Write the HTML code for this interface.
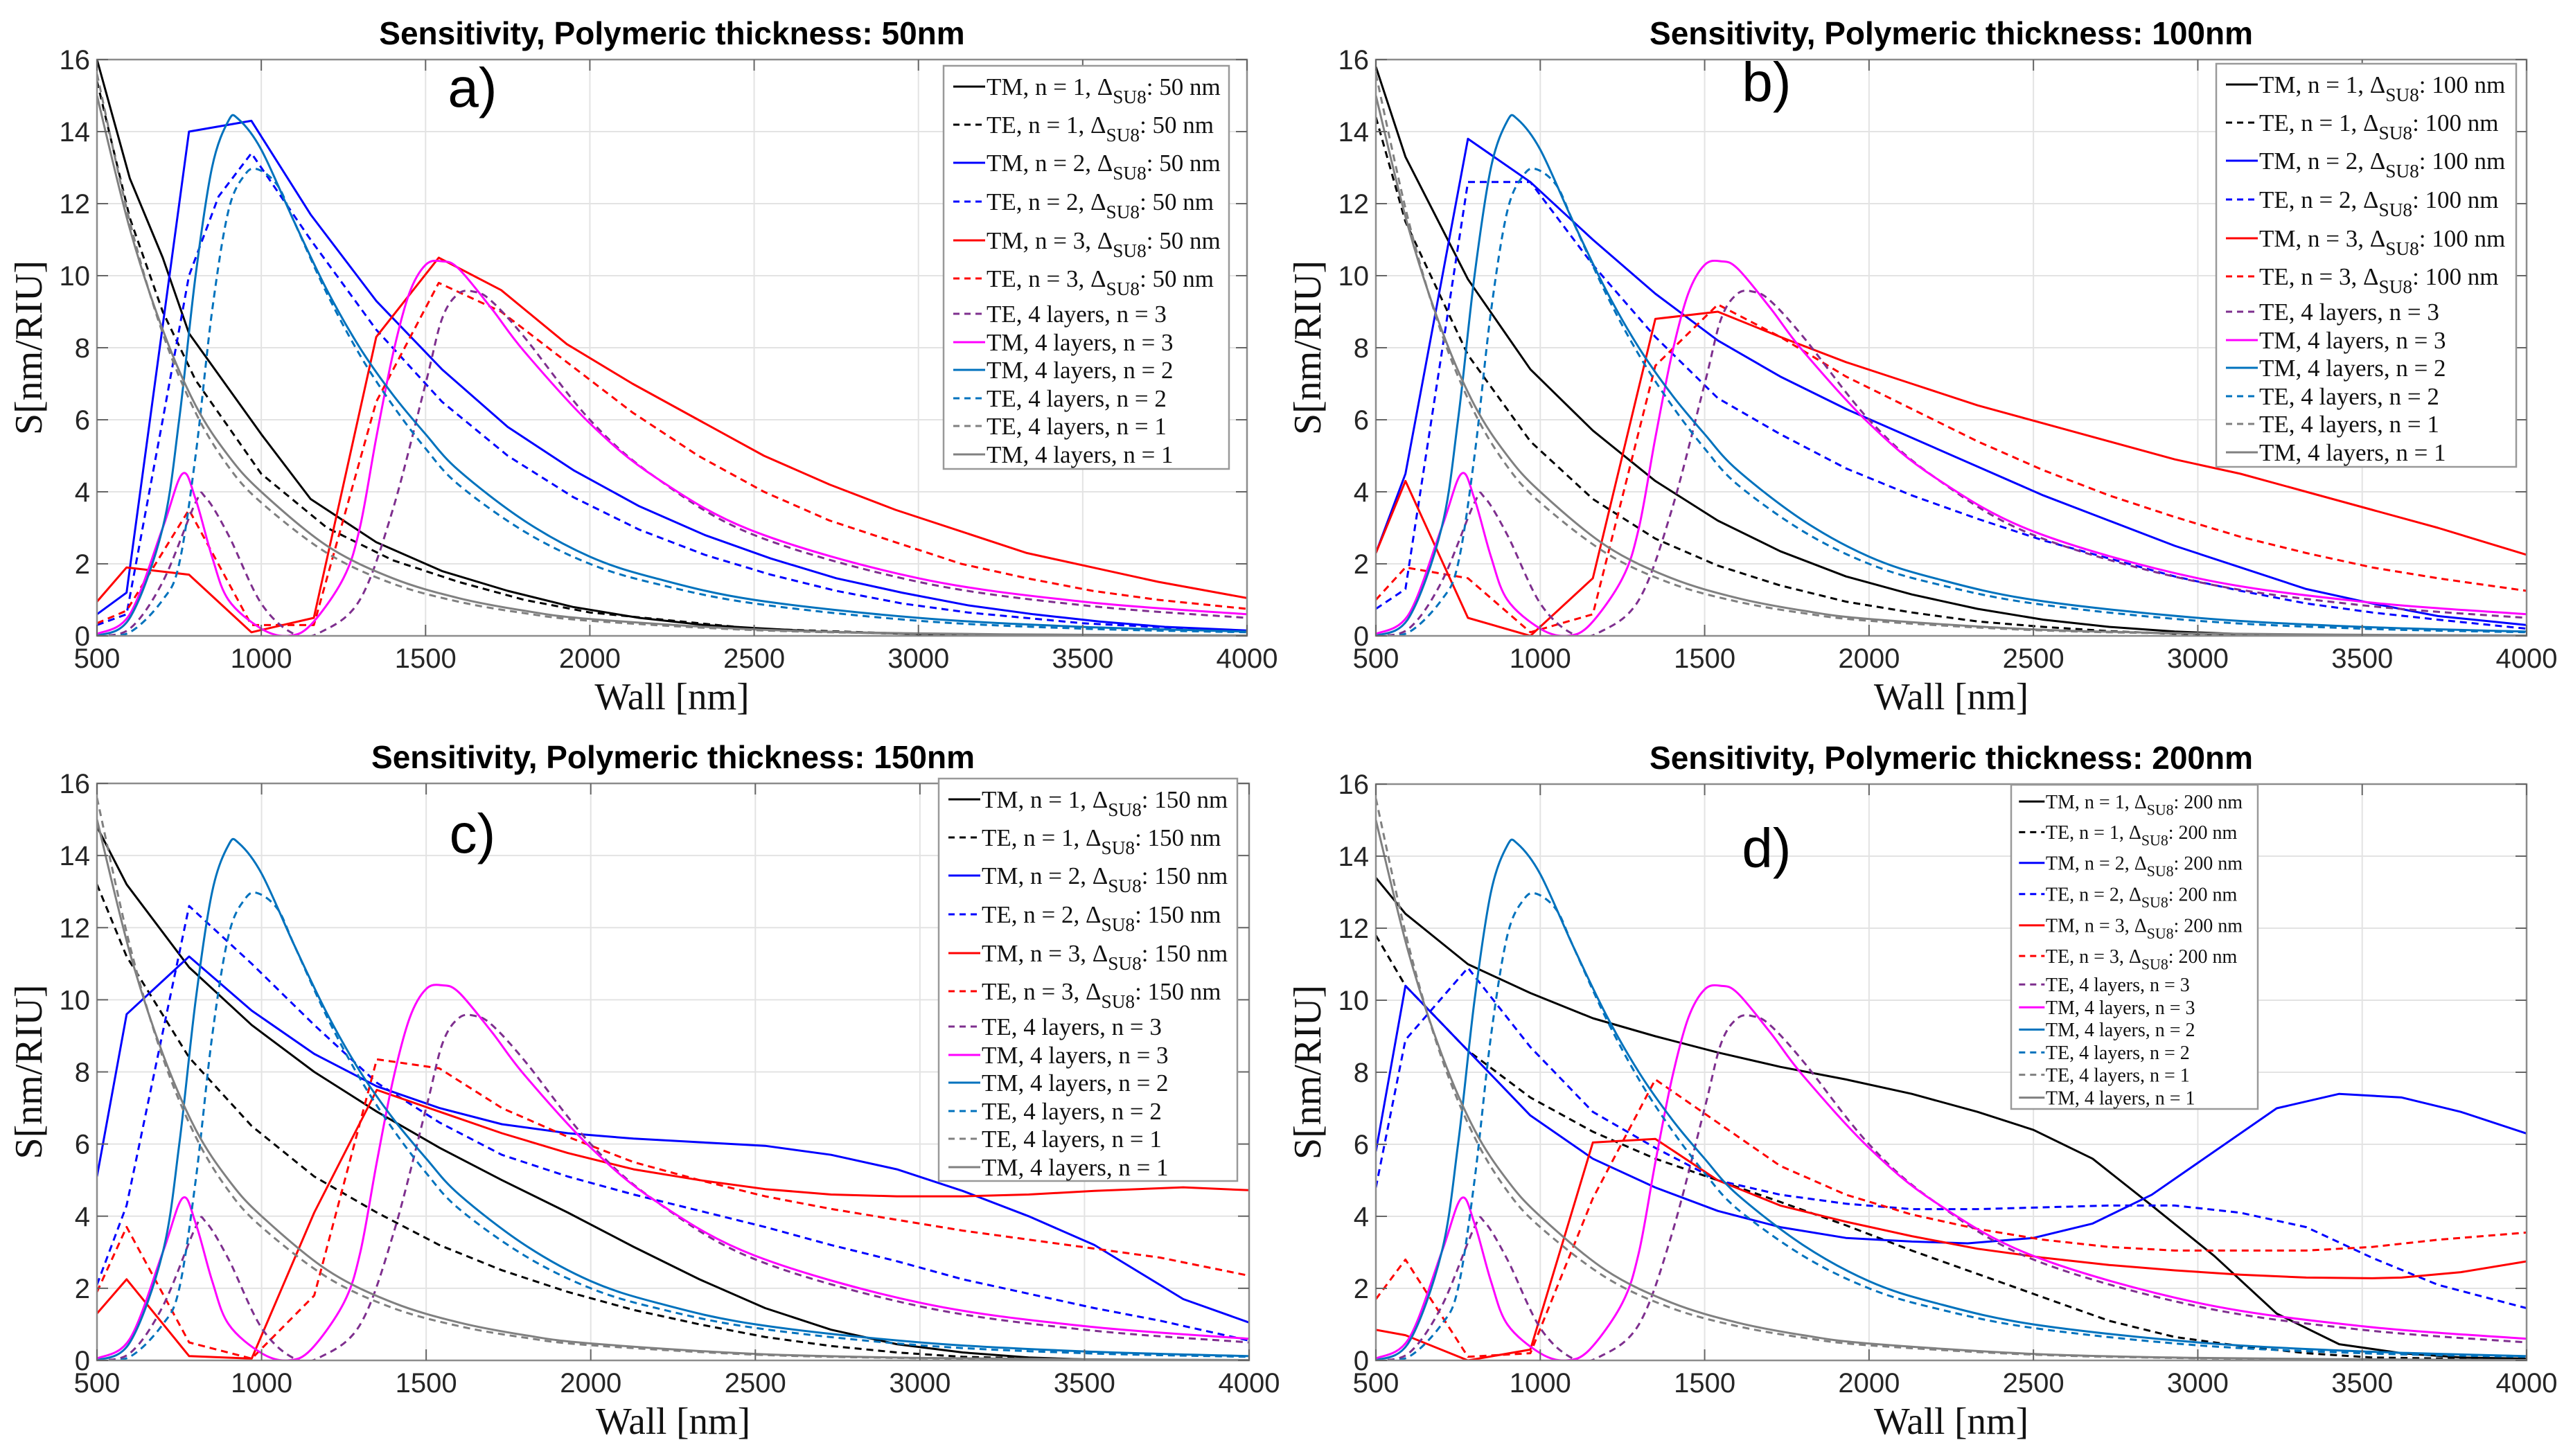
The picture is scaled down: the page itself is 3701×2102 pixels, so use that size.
<!DOCTYPE html>
<html><head><meta charset="utf-8">
<style>
html,body{margin:0;padding:0;background:#fff;}
svg{display:block;}
.tt{font-family:"Liberation Sans Narrow","Liberation Sans",sans-serif;font-weight:bold;font-stretch:condensed;}
.tk{font-family:"Liberation Sans Narrow","Liberation Sans",sans-serif;font-stretch:condensed;fill:#262626;}
.ser{font-family:"Liberation Serif",serif;fill:#111;}
</style></head>
<body>
<svg id="fig" width="3701" height="2102" viewBox="0 0 3701 2102" xmlns="http://www.w3.org/2000/svg"></svg>
<script>
// ---- shared 4-layer series ----
const tm4n1X=[500,600,700,800,900,1000,1200,1400,1600,1800,2000,2500,3000,3500,4000];
const tm4n1Y=[15,11.3,8.5,6.4,5.0,4.0,2.5,1.6,1.05,0.7,0.47,0.18,0.07,0.03,0.01];
const te4n1X=[500,600,700,800,900,1000,1200,1400,1600,1800,2000,2500,3000,3500,4000];
const te4n1Y=[15.6,11.5,8.4,6.2,4.7,3.7,2.3,1.45,0.95,0.63,0.42,0.16,0.06,0.02,0.01];
const tm4n2X=[500,600,700,750,800,850,900,930,1000,1100,1200,1300,1400,1500,1600,1800,2000,2200,2500,3000,3500,4000];
const tm4n2Y=[0,0.5,3.0,6,10,13,14.3,14.35,13.5,11.5,9.6,8.0,6.7,5.6,4.6,3.2,2.2,1.6,1.0,0.5,0.25,0.12];
const te4n2X=[500,600,700,750,800,850,900,950,990,1050,1100,1200,1300,1400,1500,1600,1800,2000,2200,2500,3000,3500,4000];
const te4n2Y=[0,0.1,1.0,2,5,9,11.8,12.8,12.95,12.5,11.5,9.5,7.8,6.4,5.2,4.2,2.9,2.0,1.45,0.9,0.42,0.2,0.1];
const tm4n3X=[500,600,700,760,800,850,900,1000,1080,1150,1250,1300,1350,1400,1450,1500,1550,1600,1700,1800,2000,2200,2500,3000,3500,4000];
const tm4n3Y=[0.05,0.6,3.0,4.5,3.8,2.2,1.0,0.2,0.0,0.3,1.6,3.0,5.5,7.8,9.5,10.3,10.4,10.2,9.1,7.9,5.9,4.4,2.9,1.6,0.95,0.6];
const te4n3X=[500,600,700,800,830,900,1000,1100,1180,1300,1400,1500,1550,1600,1650,1700,1800,2000,2200,2500,3000,3500,4000];
const te4n3Y=[0,0.2,1.5,3.7,3.85,2.8,0.9,0.05,0.1,1.0,3.5,7.0,8.8,9.5,9.55,9.3,8.3,6.0,4.4,2.8,1.5,0.85,0.5];

// ---- panel a (50 nm) ----
const aTM1X=[500,600,700,780,1000,1150,1350,1550,1750,1950,2150,2350,2500,2700,3000,3500,4000];
const aTM1Y=[16,12.7,10.5,8.4,5.6,3.8,2.6,1.8,1.25,0.8,0.5,0.3,0.22,0.12,0.05,0.01,0];
const aTE1X=[500,600,700,800,1000,1200,1400,1600,1800,2000,2500,3000,4000];
const aTE1Y=[15.4,11.6,9.0,7.1,4.5,3.0,2.1,1.5,1.0,0.65,0.2,0.05,0];
const aTM2X=[500,590,780,970,1150,1350,1550,1750,1950,2150,2350,2550,2750,2950,3150,3350,3550,3750,4000];
const aTM2Y=[0.6,1.2,14.0,14.3,11.7,9.3,7.4,5.8,4.6,3.6,2.8,2.15,1.6,1.2,0.85,0.6,0.4,0.25,0.15];
const aTE2X=[500,590,700,780,870,970,1000,1150,1350,1550,1750,1950,2150,2350,2550,2750,2950,3150,3500,4000];
const aTE2Y=[0.3,0.6,6,10,12.2,13.4,13.0,11,8.5,6.5,5.0,3.85,2.95,2.25,1.7,1.25,0.9,0.65,0.35,0.12];
const aTM3X=[500,590,780,970,1160,1350,1540,1730,1930,2130,2330,2530,2730,2930,3130,3330,3530,3730,4000];
const aTM3Y=[0.95,1.9,1.7,0.1,0.5,8.3,10.5,9.6,8.1,7.0,6.0,5.0,4.2,3.5,2.9,2.3,1.9,1.5,1.05];
const aTE3X=[500,590,780,970,1160,1350,1540,1730,1930,2130,2330,2530,2730,2930,3130,3330,3530,3730,4000];
const aTE3Y=[0.35,0.7,3.5,0.3,0.3,6.5,9.8,9.0,7.6,6.2,5.0,4.0,3.2,2.6,2.0,1.6,1.25,1.0,0.75];

// ---- panel b (100 nm) ----
const bTM1X=[500,590,780,970,1160,1350,1540,1730,1930,2130,2330,2530,2730,2930,3130,3500,4000];
const bTM1Y=[15.8,13.3,9.9,7.4,5.7,4.3,3.2,2.35,1.65,1.15,0.75,0.45,0.25,0.12,0.05,0.01,0];
const bTE1X=[500,590,780,970,1160,1350,1540,1730,1930,2130,2330,2530,2730,2930,3500,4000];
const bTE1Y=[14.4,11.5,7.8,5.4,3.8,2.7,1.95,1.4,0.95,0.65,0.4,0.25,0.13,0.06,0.01,0];
const bTM2X=[500,590,780,970,1160,1350,1540,1730,1930,2130,2330,2530,2730,2930,3130,3330,3530,3730,4000];
const bTM2Y=[2.3,4.5,13.8,12.6,11.0,9.5,8.2,7.2,6.3,5.5,4.7,3.9,3.2,2.5,1.9,1.3,0.9,0.55,0.3];
const bTE2X=[500,590,780,970,1160,1350,1540,1730,1930,2130,2330,2530,2730,2930,3130,3330,3530,3730,4000];
const bTE2Y=[0.75,1.3,12.6,12.6,10.3,8.3,6.6,5.6,4.65,3.9,3.25,2.65,2.15,1.65,1.25,0.9,0.65,0.45,0.2];
const bTM3X=[500,590,780,970,1160,1350,1540,1730,1930,2130,2330,2530,2730,2930,3130,3330,3530,3730,4000];
const bTM3Y=[2.3,4.3,0.5,0.0,1.6,8.8,9.0,8.3,7.6,7.0,6.4,5.9,5.4,4.9,4.5,4.0,3.5,3.0,2.25];
const bTE3X=[500,590,780,970,1160,1350,1540,1730,1930,2130,2330,2530,2730,2930,3130,3330,3530,3730,4000];
const bTE3Y=[1.0,1.9,1.6,0.1,0.6,7.5,9.2,8.3,7.2,6.3,5.4,4.6,3.9,3.3,2.75,2.3,1.9,1.6,1.25];

// ---- panel c (150 nm) ----
const cTM1X=[500,590,780,970,1160,1350,1540,1730,1930,2130,2330,2530,2730,2930,3130,3330,3530,4000];
const cTM1Y=[14.8,13.2,10.9,9.3,8.0,6.9,5.9,5.0,4.1,3.15,2.25,1.45,0.85,0.45,0.22,0.08,0.02,0];
const cTE1X=[500,590,780,970,1160,1350,1540,1730,1930,2130,2330,2530,2730,2930,3130,3500,4000];
const cTE1Y=[13.2,11.2,8.4,6.5,5.1,4.1,3.2,2.5,1.9,1.4,1.0,0.65,0.4,0.22,0.1,0.02,0];
const cTM2X=[500,590,780,970,1160,1350,1540,1730,1930,2130,2330,2530,2730,2930,3130,3330,3530,3800,4000];
const cTM2Y=[5.1,9.6,11.2,9.7,8.5,7.6,7.0,6.55,6.3,6.15,6.05,5.95,5.7,5.3,4.7,4.0,3.2,1.7,1.05];
const cTE2X=[500,590,780,970,1160,1350,1540,1730,1930,2130,2330,2530,2730,2930,3130,3330,3530,3730,4000];
const cTE2Y=[2.1,4.3,12.6,11.0,9.3,7.7,6.6,5.7,5.1,4.6,4.15,3.7,3.2,2.75,2.25,1.85,1.45,1.1,0.55];
const cTM3X=[500,590,780,970,1160,1350,1540,1730,1930,2130,2330,2530,2730,2930,3130,3330,3530,3800,4000];
const cTM3Y=[1.3,2.25,0.12,0.05,4.1,7.5,6.9,6.3,5.75,5.3,5.0,4.75,4.6,4.55,4.55,4.6,4.7,4.8,4.72];
const cTE3X=[500,590,780,970,1160,1350,1540,1730,1930,2130,2330,2530,2730,2930,3130,3330,3530,3730,4000];
const cTE3Y=[1.9,3.7,0.5,0.05,1.8,8.35,8.1,7.0,6.2,5.5,5.0,4.55,4.2,3.9,3.6,3.35,3.1,2.85,2.35];

// ---- panel d (200 nm) ----
const dTM1X=[500,590,780,970,1160,1350,1540,1730,1930,2130,2330,2500,2680,2860,3050,3240,3430,3620,3800,4000];
const dTM1Y=[13.4,12.4,11.0,10.2,9.5,9.0,8.55,8.15,7.8,7.4,6.9,6.4,5.6,4.3,2.9,1.3,0.45,0.2,0.08,0.05];
const dTE1X=[500,590,780,970,1160,1350,1540,1730,1930,2130,2330,2530,2730,2930,3130,3330,3530,4000];
const dTE1Y=[11.8,10.4,8.6,7.3,6.35,5.6,5.0,4.4,3.75,3.05,2.4,1.75,1.1,0.65,0.4,0.2,0.08,0.02];
const dTM2X=[500,590,780,970,1160,1350,1540,1730,1930,2130,2300,2500,2680,2860,3050,3240,3430,3620,3800,4000];
const dTM2Y=[5.8,10.4,8.6,6.8,5.6,4.8,4.15,3.7,3.4,3.3,3.25,3.4,3.8,4.6,5.8,7.0,7.4,7.3,6.9,6.3];
const dTE2X=[500,590,780,970,1160,1350,1540,1730,1930,2130,2330,2530,2730,2930,3130,3330,3530,3730,4000];
const dTE2Y=[4.8,8.9,10.9,8.7,6.9,5.9,5.0,4.6,4.35,4.2,4.2,4.25,4.3,4.3,4.1,3.7,2.85,2.1,1.45];
const dTM3X=[500,590,780,970,1160,1350,1540,1730,1930,2130,2330,2530,2730,2930,3130,3330,3530,3620,3800,4000];
const dTM3Y=[0.85,0.7,0.0,0.3,6.05,6.15,5.0,4.3,3.85,3.45,3.1,2.85,2.65,2.5,2.38,2.3,2.28,2.3,2.45,2.75];
const dTE3X=[500,590,780,970,1160,1350,1540,1730,1930,2130,2330,2530,2730,2930,3130,3330,3530,3730,4000];
const dTE3Y=[1.7,2.8,0.1,0.2,4.5,7.8,6.6,5.4,4.6,4.05,3.65,3.35,3.15,3.05,3.05,3.05,3.15,3.35,3.55];

const xTicks=[500,1000,1500,2000,2500,3000,3500,4000];
const yTicks=[0,2,4,6,8,10,12,14,16];

const NS="http://www.w3.org/2000/svg";
const fig=document.getElementById('fig');
function mk(tag,attrs,parent){const e=document.createElementNS(NS,tag);for(const k in attrs)e.setAttribute(k,attrs[k]);(parent||fig).appendChild(e);return e;}

function smoothPath(pts){
  let d='M'+pts[0][0].toFixed(1)+','+pts[0][1].toFixed(1);
  for(let i=0;i<pts.length-1;i++){
    const p0=pts[Math.max(0,i-1)],p1=pts[i],p2=pts[i+1],p3=pts[Math.min(pts.length-1,i+2)];
    const c1x=p1[0]+(p2[0]-p0[0])/6,c1y=p1[1]+(p2[1]-p0[1])/6;
    const c2x=p2[0]-(p3[0]-p1[0])/6,c2y=p2[1]-(p3[1]-p1[1])/6;
    d+=' C'+c1x.toFixed(1)+','+c1y.toFixed(1)+' '+c2x.toFixed(1)+','+c2y.toFixed(1)+' '+p2[0].toFixed(1)+','+p2[1].toFixed(1);
  }
  return d;
}

const COL={k:'#000000',b:'#0000ff',r:'#ff0000',m:'#ff00ff',t:'#0072bd',p:'#7e2f8e',g:'#808080'};

function drawPanel(P){
  const g=mk('g',{});
  
  
  const sx=v=>P.L+(v-500)/3500*(P.R-P.L);
  const sy=v=>P.B-v/16*(P.B-P.T);
  xTicks.forEach(t=>{const l=mk('line',{x1:sx(t),x2:sx(t),y1:P.T,y2:P.B,stroke:'#e3e3e3','stroke-width':2},g);
    });
  yTicks.forEach(t=>{const l=mk('line',{x1:P.L,x2:P.R,y1:sy(t),y2:sy(t),stroke:'#e3e3e3','stroke-width':2},g);
    });
  const clipId='clip-'+P.id;
  const cp=mk('clipPath',{id:clipId},g);mk('rect',{x:P.L,y:P.T-2,width:P.R-P.L,height:P.B-P.T+2},cp);
  const sg=mk('g',{'clip-path':'url(#'+clipId+')'},g);
  P.series.forEach(s=>{
    const pts=s.x.map((v,i)=>[sx(v),sy(s.y[i])]);
    let el;
    if(s.smooth){el=mk('path',{d:smoothPath(pts),fill:'none'},sg);}
    else{el=mk('polyline',{points:pts.map(p=>p[0].toFixed(1)+','+p[1].toFixed(1)).join(' '),fill:'none'},sg);}
    el.setAttribute('stroke',COL[s.c]);el.setAttribute('stroke-width',3);el.setAttribute('stroke-linejoin','round');
    if(s.dash)el.setAttribute('stroke-dasharray','10,7');
    
    
  });
  const box=mk('rect',{x:P.L,y:P.T,width:P.R-P.L,height:P.B-P.T,fill:'none',stroke:'#8c8c8c','stroke-width':2.5},g);
  
  xTicks.forEach(t=>{
    mk('line',{x1:sx(t),x2:sx(t),y1:P.B,y2:P.B-16,stroke:'#666','stroke-width':2},g);
    mk('line',{x1:sx(t),x2:sx(t),y1:P.T,y2:P.T+16,stroke:'#666','stroke-width':2},g);
    const tx=mk('text',{x:sx(t),y:P.B+46,'text-anchor':'middle','font-size':40,class:'tk'},g);tx.textContent=t;
    
  });
  yTicks.forEach(t=>{
    mk('line',{x1:P.L,x2:P.L+16,y1:sy(t),y2:sy(t),stroke:'#666','stroke-width':2},g);
    mk('line',{x1:P.R,x2:P.R-16,y1:sy(t),y2:sy(t),stroke:'#666','stroke-width':2},g);
    const ty=mk('text',{x:P.L-10,y:sy(t)+14,'text-anchor':'end','font-size':40,class:'tk'},g);ty.textContent=t;
    
  });
  const ti=mk('text',{x:(P.L+P.R)/2,y:P.T-22,'text-anchor':'middle','font-size':46,class:'tt'},g);ti.textContent=P.title;
  
  const pl=mk('text',{x:P.L+P.lx,y:P.T+P.ly,'text-anchor':'middle','font-size':80,'font-family':'Liberation Sans, sans-serif'},g);pl.textContent=P.letter;
  
  const xt=mk('text',{x:(P.L+P.R)/2,y:P.B+106,'text-anchor':'middle','font-size':55,class:'ser'},g);xt.textContent='Wall [nm]';
  
  const yc=(P.T+P.B)/2;
  const yt=mk('text',{x:P.L-80,y:yc,'text-anchor':'middle','font-size':56,class:'ser',transform:'rotate(-90 '+(P.L-80)+' '+yc+')'},g);yt.textContent='S[nm/RIU]';
  
  const Lg=P.leg, k=Lg.k;
  const lg=mk('g',{},g);
  
  mk('rect',{x:Lg.x,y:Lg.y,width:Lg.w,height:Lg.h,fill:'#fff',stroke:'#999','stroke-width':2.5},lg);
  const offs=[30,85,140,196,252,307,358,399,439,480,520,561];
  P.series.forEach((s,i)=>{
    const yy=Lg.y+offs[i]*k;
    const ent=mk('g',{},lg);
    
    const ln=mk('line',{x1:Lg.x+14*k,x2:Lg.x+60*k,y1:yy,y2:yy,stroke:COL[s.c],'stroke-width':3},ent);
    if(s.dash)ln.setAttribute('stroke-dasharray','9,7');
    const t=mk('text',{x:Lg.x+62*k,y:yy+12*k,'font-size':Lg.fs,class:'ser'},ent);
    if(s.sub){
      t.appendChild(document.createTextNode(s.lab1));
      const sub=mk('tspan',{dy:12*k,'font-size':Lg.fs*0.78},t);sub.textContent='SU8';
      const rest=mk('tspan',{dy:-12*k},t);rest.textContent=s.lab2;
    } else t.textContent=s.lab1;
  });
}

function seriesSet(th,d){
  const n=th+' nm';
  return [
    {x:d[0],y:d[1],c:'k',name:'tm-n1-line',sub:1,lab1:'TM, n = 1, Δ',lab2:': '+n},
    {x:d[2],y:d[3],c:'k',dash:1,name:'te-n1-line',sub:1,lab1:'TE, n = 1, Δ',lab2:': '+n},
    {x:d[4],y:d[5],c:'b',name:'tm-n2-line',sub:1,lab1:'TM, n = 2, Δ',lab2:': '+n},
    {x:d[6],y:d[7],c:'b',dash:1,name:'te-n2-line',sub:1,lab1:'TE, n = 2, Δ',lab2:': '+n},
    {x:d[8],y:d[9],c:'r',name:'tm-n3-line',sub:1,lab1:'TM, n = 3, Δ',lab2:': '+n},
    {x:d[10],y:d[11],c:'r',dash:1,name:'te-n3-line',sub:1,lab1:'TE, n = 3, Δ',lab2:': '+n},
    {x:te4n3X,y:te4n3Y,c:'p',dash:1,smooth:1,name:'te-4layer-n3-line',lab1:'TE, 4 layers,  n = 3'},
    {x:tm4n3X,y:tm4n3Y,c:'m',smooth:1,name:'tm-4layer-n3-line',lab1:'TM, 4 layers,  n = 3'},
    {x:tm4n2X,y:tm4n2Y,c:'t',smooth:1,name:'tm-4layer-n2-line',lab1:'TM, 4 layers,  n = 2'},
    {x:te4n2X,y:te4n2Y,c:'t',dash:1,smooth:1,name:'te-4layer-n2-line',lab1:'TE, 4 layers,  n = 2'},
    {x:te4n1X,y:te4n1Y,c:'g',dash:1,smooth:1,name:'te-4layer-n1-line',lab1:'TE, 4 layers,  n = 1'},
    {x:tm4n1X,y:tm4n1Y,c:'g',smooth:1,name:'tm-4layer-n1-line',lab1:'TM, 4 layers,  n = 1'}
  ];
}

drawPanel({id:'panel-a',L:140,R:1800,T:86,B:918,title:'Sensitivity, Polymeric thickness: 50nm',letter:'a)',lx:542,ly:68,
  leg:{x:1362,y:95,w:412,h:582,k:1,fs:35},
  series:seriesSet(50,[aTM1X,aTM1Y,aTE1X,aTE1Y,aTM2X,aTM2Y,aTE2X,aTE2Y,aTM3X,aTM3Y,aTE3X,aTE3Y])});
drawPanel({id:'panel-b',L:1986,R:3647,T:86,B:918,title:'Sensitivity, Polymeric thickness: 100nm',letter:'b)',lx:564,ly:60,
  leg:{x:3199,y:92,w:433,h:582,k:1,fs:35},
  series:seriesSet(100,[bTM1X,bTM1Y,bTE1X,bTE1Y,bTM2X,bTM2Y,bTE2X,bTE2Y,bTM3X,bTM3Y,bTE3X,bTE3Y])});
drawPanel({id:'panel-c',L:140,R:1803,T:1131,B:1964,title:'Sensitivity, Polymeric thickness: 150nm',letter:'c)',lx:542,ly:100,
  leg:{x:1355,y:1124,w:431,h:581,k:1,fs:35},
  series:seriesSet(150,[cTM1X,cTM1Y,cTE1X,cTE1Y,cTM2X,cTM2Y,cTE2X,cTE2Y,cTM3X,cTM3Y,cTE3X,cTE3Y])});
drawPanel({id:'panel-d',L:1986,R:3647,T:1132,B:1964,title:'Sensitivity, Polymeric thickness: 200nm',letter:'d)',lx:564,ly:120,
  leg:{x:2903,y:1133,w:356,h:468,k:0.805,fs:28},
  series:seriesSet(200,[dTM1X,dTM1Y,dTE1X,dTE1Y,dTM2X,dTM2Y,dTE2X,dTE2Y,dTM3X,dTM3Y,dTE3X,dTE3Y])});
</script>
</body></html>
